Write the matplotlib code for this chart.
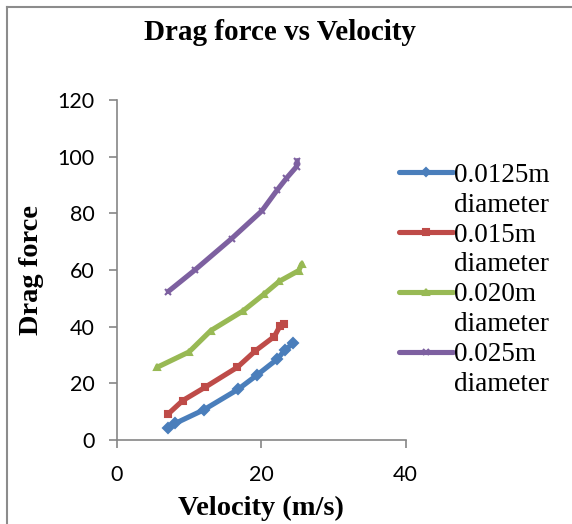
import matplotlib.pyplot as plt
from matplotlib.lines import Line2D

# Measured drag force for four sphere diameters
v_0125 = [7.1, 8.1, 12.0, 16.8, 19.4, 22.2, 23.3, 24.4]
f_0125 = [4.1, 5.9, 10.6, 17.9, 22.9, 28.5, 31.8, 34.1]

v_015 = [7.1, 9.1, 12.2, 16.7, 19.2, 21.8, 22.6, 23.1]
f_015 = [9.2, 13.9, 18.6, 25.7, 31.5, 36.5, 40.2, 40.9]

v_020 = [5.6, 10.0, 13.0, 17.5, 20.4, 22.5, 25.2, 25.6]
f_020 = [25.7, 31.1, 38.6, 45.6, 51.5, 56.0, 59.8, 62.1]

v_025 = [7.1, 10.8, 15.9, 20.1, 22.2, 23.5, 24.9, 25.0]
f_025 = [52.4, 60.0, 71.1, 80.9, 88.2, 92.4, 96.5, 98.6]

diameters = ['0.0125m', '0.015m', '0.020m', '0.025m']
colors = ['#4A7EBB', '#BE4B48', '#98B954', '#7D60A0']
markers = ['D', 's', '^', 'x']

serif = ['Liberation Serif', 'DejaVu Serif']
sans = ['Lato', 'DejaVu Sans']

fig = plt.figure(figsize=(5.72, 5.24), dpi=100)
ax = fig.add_axes([117 / 572, 84 / 524, (405.5 - 117) / 572, 340 / 524])

series = [(v_0125, f_0125), (v_015, f_015), (v_020, f_020), (v_025, f_025)]
for (v, f), c, m, d in zip(series, colors, markers, diameters):
    ax.plot(v, f, color=c, lw=3.7, marker=m, ms=5, mew=1.5, mfc=c, mec=c,
            label=d + ' diameter', solid_capstyle='round')

ax.set_xlim(0, 40)
ax.set_ylim(0, 120)
ax.set_xticks([0, 20, 40])
ax.set_yticks(range(0, 121, 20))
for s in ['top', 'right']:
    ax.spines[s].set_visible(False)
for s in ['left', 'bottom']:
    ax.spines[s].set_color('#868686')
    ax.spines[s].set_linewidth(1.2)
ax.tick_params(colors='#868686', length=6, width=1.2, labelcolor='black', labelsize=15.5)
ax.tick_params(axis='x', pad=12)
ax.tick_params(axis='y', pad=10)
for t in ax.get_xticklabels() + ax.get_yticklabels():
    t.set_family(sans)

ax.set_xlabel('Velocity (m/s)', family=serif, fontweight='bold', fontsize=20.5, labelpad=8)
ax.set_ylabel('Drag force', family=serif, fontweight='bold', fontsize=20.5, labelpad=10)

fig.text(0.49, 1 - 33 / 524, 'Drag force vs Velocity', family=serif, fontweight='bold',
         fontsize=21, ha='center', va='center')

# legend: each diameter label wraps onto a second line, handle sits on the first line
handles, texts = [], []
for c, m, d in zip(colors, markers, diameters):
    handles.append(Line2D([0], [0], color=c, lw=3.7, marker=m, ms=4.5, mfc=c, mec=c,
                          mew=1.5, solid_capstyle='round'))
    texts.append(d)
    handles.append(Line2D([], [], linestyle='none'))
    texts.append('diameter')
fig.legend(handles, texts, loc='upper left', bbox_to_anchor=(388 / 572, 1 - 152 / 524),
           frameon=False, prop={'family': serif, 'size': 19.5}, handlelength=2.0,
           handletextpad=0.05, labelspacing=0.18, borderaxespad=0)

# chart border (top and left)
fig.add_artist(Line2D([6.5 / 572, 6.5 / 572], [0, 1 - 7 / 524], color='#8C8C8C', lw=1.5,
                      transform=fig.transFigure))
fig.add_artist(Line2D([6.5 / 572, 1], [1 - 7 / 524, 1 - 7 / 524], color='#8C8C8C', lw=1.5,
                      transform=fig.transFigure))

fig.savefig('out.png', dpi=100)
